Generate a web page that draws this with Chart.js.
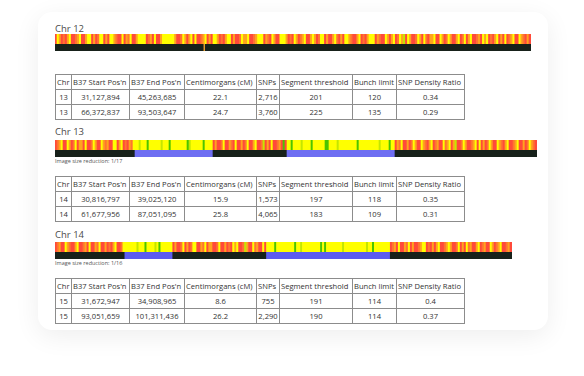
<!DOCTYPE html>
<html>
<head>
<meta charset="utf-8">
<script src="https://cdn.jsdelivr.net/npm/chart.js@4"></script>
<style>
  body { margin: 0; background: #fff; font-family: "Open Sans", sans-serif; color: #333; }
  .page { position: relative; width: 584px; height: 376px; overflow: hidden; }
  .card { position: absolute; left: 38px; top: 12px; width: 510px; height: 318px; border-radius: 14px;
          background: #fff; box-shadow: 0 6px 26px rgba(0, 0, 0, 0.07); }
  .chr { position: absolute; left: 55px; font-size: 9.5px; color: #4a4a4a; line-height: 12px; }
  .note { position: absolute; left: 55px; font-size: 5.5px; color: #555; line-height: 7px; }
  canvas { position: absolute; left: 55px; display: block; }
  table { position: absolute; left: 55px; width: 409px; border-collapse: collapse; table-layout: fixed; font-size: 7.6px; color: #333; }
  td { border: 1px solid #8c8c8c; height: 14px; padding: 0 1px; text-align: center; white-space: nowrap; line-height: 12px; }
  tr.head td { text-align: left; }
</style>
</head>
<body>
<div class="page">
  <div class="card"></div>

  <div class="chr" style="top:23px">Chr 12</div>
  <canvas id="snp12" width="476" height="10" style="top:34px"></canvas>
  <canvas id="seg12" width="476" height="7" style="top:44px"></canvas>
  <table id="t1" style="top:74px"></table>

  <div class="chr" style="top:126px">Chr 13</div>
  <canvas id="snp13" width="482" height="10" style="top:140px"></canvas>
  <canvas id="seg13" width="482" height="7" style="top:150px"></canvas>
  <div class="note" style="top:158px">Image size reduction: 1/17</div>
  <table id="t2" style="top:176px"></table>

  <div class="chr" style="top:229px">Chr 14</div>
  <canvas id="snp14" width="457" height="10" style="top:242px"></canvas>
  <canvas id="seg14" width="457" height="7" style="top:252px"></canvas>
  <div class="note" style="top:260px">Image size reduction: 1/16</div>
  <table id="t3" style="top:278px"></table>
</div>

<script>
// SNP match codes along each chromosome (one letter per bin)
// R red, A red-orange, O orange, Y yellow, L lime, G green
const snp12 = "RYORAROYRRAOYRROYYRO" + "RAYYRORYYOARRYROAYRR" + "OYYYYRAORYRROYYYYYYO" +
              "RRAYOROYRYRRAOYRORYY" + "ORAROYYRORRAYOOYRRAO" + "YYYROARYORRYYYORARYO" +
              "RAOYRROYORAYYRORROYA" + "RORYYOARROYRAROYYYRO" + "ARRYOROYRAYOLRYORRAY" +
              "ORYAROOYRRYORAYORROY" + "RAYROYRRAORYOYRAROYR" + "ORYRAOYRRYOAROR";

const snp13 = "RAOYRRYORAYROORYRRAYORRYOAORRYYROYRAROAY" +
              "YYLYYYGYYYYYYLYYYGYYYYYYYYGLYYYYYYGYYYY" +
              "RORRAYRROARYRRORAYRROYRRALRORYRRAORGR" +
              "YYGYYYYLYYYYGYYYYYYGGYYYYLYYYYYYYYYGYYYYYYYYYYLYYYYGYY" +
              "ROAYRRORAYORRYOAROYRAORRYAOYROLRRAYORRAOYRYRORAYORRYOAROYRRAOYRRORAYOAR";

const snp14 = "RAORRYOARROYRRAORYRROAYRRORAROYRRAY" +
              "YYYYYYLYYYGYYYYLYGYYYYYY" +
              "RORRAYRORAYYRROAYROORRAYRRORARYOYRRALORRYAORRYR" +
              "YYYYGYYYYYYYYYGYYLYYYYYYYYYGYGYYYYYYYYLYYYYYYYYYYYLYYGYYYYYYYY" +
              "RAORYRROAYRORRAOYYRAROROYRRAOYORRAYRORYAORROYRAORRYORAOYRRAOR";

// matching segments [start bin, end bin, code]  K = no match, B = match, C = centromere
const seg12 = [[0, 73.5, "K"], [73.5, 74.2, "C"], [74.2, 238, "K"]];
const seg13 = [[0, 40, "K"], [40, 79, "B"], [79, 116, "K"], [116, 170, "B"], [170, 241, "K"]];
const seg14 = [[0, 35, "K"], [35, 59, "B"], [59, 106, "K"], [106, 168, "B"], [168, 229, "K"]];

// table columns and rows
const columns = ["Chr", "B37 Start Pos'n", "B37 End Pos'n", "Centimorgans (cM)", "SNPs",
                 "Segment threshold", "Bunch limit", "SNP Density Ratio"];
const rows1 = [["13", "31,127,894", "45,263,685", "22.1", "2,716", "201", "120", "0.34"],
               ["13", "66,372,837", "93,503,647", "24.7", "3,760", "225", "135", "0.29"]];
const rows2 = [["14", "30,816,797", "39,025,120", "15.9", "1,573", "197", "118", "0.35"],
               ["14", "61,677,956", "87,051,095", "25.8", "4,065", "183", "109", "0.31"]];
const rows3 = [["15", "31,672,947", "34,908,965", "8.6", "755", "191", "114", "0.4"],
               ["15", "93,051,659", "101,311,436", "26.2", "2,290", "190", "114", "0.37"]];

const colours = {
  R: "#ff4a3a", A: "#ff7430", O: "#ffa31e", Y: "#ffff00", L: "#c4e600", G: "#4cc400",
  K: "#17211a", B: "#6c6cf4", C: "#f0a030"
};
const colWidths = [16, 58, 55, 72, 23, 73, 44, 68];

function toRuns(str) {
  const runs = [];
  for (let i = 0; i < str.length; i++) {
    const last = runs[runs.length - 1];
    if (last && last[2] === str[i]) last[1] = i + 1;
    else runs.push([i, i + 1, str[i]]);
  }
  return runs;
}

function drawStrip(id, runs, total, blue) {
  new Chart(document.getElementById(id), {
    type: "bar",
    data: {
      labels: ["row"],
      datasets: [{
        data: runs.map(r => ({ x: [r[0], r[1]], y: "row" })),
        backgroundColor: runs.map(r => (r[2] === "B" && blue) ? blue : colours[r[2]]),
        borderWidth: 0,
        barPercentage: 1,
        categoryPercentage: 1,
      }],
    },
    options: {
      indexAxis: "y",
      responsive: false,
      animation: false,
      events: [],
      layout: { padding: 0 },
      plugins: { legend: { display: false }, tooltip: { enabled: false } },
      scales: {
        x: { type: "linear", min: 0, max: total, display: false },
        y: { display: false },
      },
    },
  });
}

function fillTable(id, rows) {
  const t = document.getElementById(id);
  let html = "<colgroup>" + colWidths.map(w => '<col style="width:' + w + 'px">').join("") + "</colgroup>";
  html += '<tr class="head">' + columns.map(c => "<td>" + c + "</td>").join("") + "</tr>";
  rows.forEach(r => { html += "<tr>" + r.map(v => "<td>" + v + "</td>").join("") + "</tr>"; });
  t.innerHTML = html;
}

drawStrip("snp12", toRuns(snp12), snp12.length);
drawStrip("seg12", seg12, snp12.length);
drawStrip("snp13", toRuns(snp13), snp13.length);
drawStrip("seg13", seg13, snp13.length, "#6e6ef2");
drawStrip("snp14", toRuns(snp14), snp14.length);
drawStrip("seg14", seg14, snp14.length, "#5c5cf0");

fillTable("t1", rows1);
fillTable("t2", rows2);
fillTable("t3", rows3);
</script>
</body>
</html>
